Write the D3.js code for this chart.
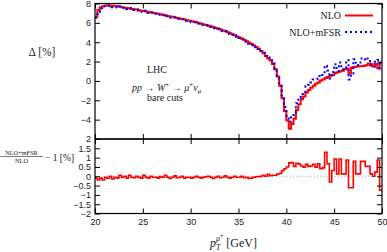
<!DOCTYPE html>
<html>
<head>
<meta charset="utf-8">
<script src="https://cdn.jsdelivr.net/npm/d3@7"></script>
<style>
  body { margin: 0; background: #fff; }
  svg { display: block; font-family: "Liberation Serif", "DejaVu Serif", serif; }
  .tick text { font-size: 9px; fill: #222; }
  .tick line { stroke: #000; stroke-width: 1; }
</style>
</head>
<body>
<div id="chart"></div>
<script>
// Histogram bins in pT (GeV): first lower edge and the bin width.
const ptStart = 20
const binWidth = 0.25

// Delta [%] at NLO, one value per bin.
const deltaNLO = [
  6.63, 7.33, 7.60, 7.72, 7.76, 7.81, 7.79, 7.77, 7.72, 7.69,
  7.66, 7.62, 7.56, 7.53, 7.49, 7.44, 7.41, 7.37, 7.31, 7.26,
  7.22, 7.17, 7.11, 7.08, 7.03, 6.98, 6.93, 6.89, 6.84, 6.78,
  6.72, 6.66, 6.62, 6.56, 6.50, 6.45, 6.40, 6.34, 6.28, 6.22,
  6.16, 6.11, 6.05, 5.98, 5.92, 5.84, 5.78, 5.71, 5.64, 5.56,
  5.48, 5.40, 5.32, 5.22, 5.13, 5.04, 4.93, 4.83, 4.72, 4.60,
  4.48, 4.36, 4.24, 4.10, 3.96, 3.82, 3.66, 3.50, 3.32, 3.10,
  2.85, 2.58, 2.32, 2.10, 1.75, 1.20, 0.45, -0.50, -1.80, -3.10,
  -4.10, -4.95, -4.45, -3.90, -3.00, -2.40, -1.90, -1.60, -1.20, -0.95,
  -0.70, -0.50, -0.30, -0.15, 0.05, 0.15, 0.30, 0.40, 0.55, 0.62,
  0.80, 0.90, 0.98, 1.05, 1.20, 1.28, 0.78, 1.38, 1.45, 1.50,
  1.52, 1.52, 1.55, 1.62, 1.80, 1.60, 1.50, 1.75, 1.30, 1.85
]

// Delta [%] at NLO+mFSR, one value per bin.
const deltaMFSR = [
  6.53, 7.13, 7.50, 7.52, 7.71, 7.71, 7.79, 7.62, 7.67, 7.59,
  7.71, 7.57, 7.56, 7.43, 7.54, 7.39, 7.33, 7.37, 7.26, 7.16,
  7.27, 7.12, 7.01, 7.08, 6.98, 6.93, 6.83, 6.87, 6.79, 6.83,
  6.67, 6.54, 6.57, 6.58, 6.42, 6.40, 6.40, 6.24, 6.23, 6.17,
  6.06, 6.06, 6.05, 5.93, 5.82, 5.79, 5.75, 5.71, 5.59, 5.44,
  5.43, 5.40, 5.24, 5.17, 5.15, 4.99, 4.83, 4.78, 4.72, 4.55,
  4.43, 4.36, 4.16, 4.05, 3.84, 3.72, 3.61, 3.47, 3.30, 3.10,
  2.90, 2.58, 2.42, 2.13, 1.80, 1.25, 0.57, -0.35, -1.50, -2.70,
  -3.60, -4.23, -3.72, -3.37, -2.30, -1.75, -1.35, -1.12, -0.56, -0.42,
  -0.15, 0.14, 0.19, 0.52, 0.45, 0.60, 1.58, 1.07, 0.24, 0.93,
  1.73, 1.03, 1.91, 1.18, 1.33, 2.15, 0.16, 0.76, 2.25, 1.63,
  1.65, 2.32, 2.35, 2.15, 2.33, 1.73, 1.50, 1.97, 2.17, 1.10
]

// (NLO+mFSR)/NLO - 1 [%], one value per bin.
const ratioMFSR = [
  -0.10, -0.20, -0.10, -0.20, -0.05, -0.10, 0.00, -0.15, -0.05, -0.10,
  0.05, -0.05, 0.00, -0.10, 0.05, -0.05, -0.08, 0.00, -0.05, -0.10,
  0.05, -0.05, -0.10, 0.00, -0.05, -0.05, -0.10, -0.02, -0.05, 0.05,
  -0.05, -0.12, -0.05, 0.02, -0.08, -0.05, 0.00, -0.10, -0.05, -0.05,
  -0.10, -0.05, 0.00, -0.05, -0.10, -0.05, -0.03, 0.00, -0.05, -0.12,
  -0.05, 0.00, -0.08, -0.05, 0.02, -0.05, -0.10, -0.05, 0.00, -0.05,
  -0.05, 0.00, -0.08, -0.05, -0.12, -0.10, -0.05, -0.03, -0.02, 0.00,
  0.05, 0.00, 0.10, 0.03, 0.05, 0.05, 0.12, 0.15, 0.30, 0.40,
  0.50, 0.72, 0.73, 0.53, 0.70, 0.65, 0.55, 0.48, 0.64, 0.53,
  0.55, 0.64, 0.49, 0.67, 0.40, 0.45, 1.28, 0.67, -0.31, 0.31,
  0.93, 0.13, 0.93, 0.13, 0.13, 0.87, -0.62, -0.62, 0.80, 0.13,
  0.13, 0.80, 0.80, 0.53, 0.53, 0.13, 0.00, 0.22, 0.87, -0.75
]

// Tick values.
const xTicks = [20, 25, 30, 35, 40, 45, 50]
const topYTicks = [-4, -2, 0, 2, 4, 6, 8]
const bottomYTicks = [-2, -1.5, -1, -0.5, 0, 0.5, 1, 1.5, 2]

const width = 387
const height = 252
const left = 95
const right = 382
const topPanel = [3.5, 139]
const bottomPanel = [139, 213.5]

const svg = d3.select("#chart")
  .append("svg")
  .attr("width", width)
  .attr("height", height)

const xScale = d3.scaleLinear().domain([20, 50]).range([left, right])
const yTop = d3.scaleLinear().domain([-6, 8]).range([topPanel[1], topPanel[0]])
const yBottom = d3.scaleLinear().domain([-2, 2]).range([bottomPanel[1], bottomPanel[0]])

const minusFormat = d => (d < 0 ? "\u2212" + Math.abs(d) : String(d))

/**
 * Turns per-bin values into step points (lower edges plus the closing edge).
 */
const _toSteps = (values) => {
  const pts = values.map((v, i) => [ptStart + i * binWidth, v])
  pts.push([ptStart + values.length * binWidth, values[values.length - 1]])
  return pts
}

/**
 * Draws the frame and the inward ticks of one panel.
 */
const _drawPanel = (yScale, yTicks, range, showXLabels) => {
  const g = svg.append("g")

  // Left axis with labels.
  g.append("g")
    .attr("transform", "translate(" + left + ",0)")
    .call(d3.axisLeft(yScale).tickValues(yTicks).tickSize(-5).tickPadding(4).tickFormat(minusFormat))
    .call(a => a.select(".domain").remove())

  // Right axis, ticks only.
  g.append("g")
    .attr("transform", "translate(" + right + ",0)")
    .call(d3.axisRight(yScale).tickValues(yTicks).tickSize(-5).tickFormat(""))
    .call(a => a.select(".domain").remove())

  // Top edge ticks.
  g.append("g")
    .attr("transform", "translate(0," + range[0] + ")")
    .call(d3.axisTop(xScale).tickValues(xTicks).tickSize(-5).tickFormat(""))
    .call(a => a.select(".domain").remove())

  // Bottom edge ticks.
  g.append("g")
    .attr("transform", "translate(0," + range[1] + ")")
    .call(d3.axisBottom(xScale).tickValues(xTicks).tickSize(-5).tickPadding(5)
      .tickFormat(showXLabels ? d3.format("d") : ""))
    .call(a => a.select(".domain").remove())

  g.append("rect")
    .attr("x", left)
    .attr("y", range[0])
    .attr("width", right - left)
    .attr("height", range[1] - range[0])
    .attr("fill", "none")
    .attr("stroke", "#000")
    .attr("stroke-width", 1.2)
}

// Clip paths for the two panels.
const defs = svg.append("defs")
defs.append("clipPath").attr("id", "clipTop")
  .append("rect").attr("x", left).attr("y", topPanel[0])
  .attr("width", right - left).attr("height", topPanel[1] - topPanel[0])
defs.append("clipPath").attr("id", "clipBottom")
  .append("rect").attr("x", left).attr("y", bottomPanel[0])
  .attr("width", right - left).attr("height", bottomPanel[1] - bottomPanel[0])

// Top panel curves.
const topLine = d3.line()
  .x(d => xScale(d[0]))
  .y(d => yTop(d[1]))
  .curve(d3.curveStepAfter)

svg.append("path")
  .attr("clip-path", "url(#clipTop)")
  .attr("d", topLine(_toSteps(deltaNLO)))
  .attr("fill", "none")
  .attr("stroke", "#ff0000")
  .attr("stroke-width", 2)

svg.append("path")
  .attr("clip-path", "url(#clipTop)")
  .attr("d", topLine(_toSteps(deltaMFSR)))
  .attr("fill", "none")
  .attr("stroke", "#0000ff")
  .attr("stroke-width", 2)
  .attr("stroke-dasharray", "2,3")

// Bottom panel: zero reference and ratio.
svg.append("line")
  .attr("x1", left).attr("x2", right)
  .attr("y1", yBottom(0)).attr("y2", yBottom(0))
  .attr("stroke", "#aaa")
  .attr("stroke-width", 1)
  .attr("stroke-dasharray", "1,2")

const bottomLine = d3.line()
  .x(d => xScale(d[0]))
  .y(d => yBottom(d[1]))
  .curve(d3.curveStepAfter)

svg.append("path")
  .attr("clip-path", "url(#clipBottom)")
  .attr("d", bottomLine(_toSteps(ratioMFSR)))
  .attr("fill", "none")
  .attr("stroke", "#ff0000")
  .attr("stroke-width", 1.6)

_drawPanel(yTop, topYTicks, topPanel, false)
_drawPanel(yBottom, bottomYTicks, bottomPanel, true)

// Legend.
const legend = [
  {label: "NLO", color: "#ff0000", dash: null, y: 15.5},
  {label: "NLO+mFSR", color: "#0000ff", dash: "2,3", y: 32}
]
legend.forEach(l => {
  svg.append("text")
    .attr("x", 341)
    .attr("y", l.y + 3.5)
    .attr("text-anchor", "end")
    .attr("font-size", 10)
    .attr("fill", "#222")
    .text(l.label)
  svg.append("line")
    .attr("x1", 345).attr("x2", 373)
    .attr("y1", l.y).attr("y2", l.y)
    .attr("stroke", l.color)
    .attr("stroke-width", 2)
    .attr("stroke-dasharray", l.dash)
})

// Process annotation.
svg.append("text").attr("x", 147).attr("y", 72.5).attr("font-size", 10).attr("fill", "#222").text("LHC")

const proc = svg.append("text").attr("x", 132).attr("y", 91).attr("font-size", 10).attr("fill", "#222")
proc.append("tspan").attr("font-style", "italic").text("pp")
proc.append("tspan").text(" \u2192 ")
proc.append("tspan").attr("font-style", "italic").text("W")
proc.append("tspan").attr("font-size", 7).attr("dy", -4).text("+")
proc.append("tspan").attr("dy", 4).text(" \u2192 ")
proc.append("tspan").attr("font-style", "italic").text("\u03bc")
proc.append("tspan").attr("font-size", 7).attr("dy", -4).text("+")
proc.append("tspan").attr("dy", 4).attr("font-style", "italic").text("\u03bd")
proc.append("tspan").attr("font-size", 7).attr("font-style", "italic").attr("dy", 2).text("\u03bc")

svg.append("text").attr("x", 147).attr("y", 101).attr("font-size", 10).attr("fill", "#222").text("bare cuts")

// Y axis titles.
svg.append("text")
  .attr("x", 42).attr("y", 56)
  .attr("text-anchor", "middle")
  .attr("font-size", 11.5)
  .attr("fill", "#222")
  .text("\u0394 [%]")

svg.append("text").attr("x", 21.5).attr("y", 154.5).attr("text-anchor", "middle")
  .attr("font-size", 6.3).attr("fill", "#222").text("NLO+mFSR")
svg.append("line").attr("x1", 0.5).attr("x2", 43).attr("y1", 156.5).attr("y2", 156.5)
  .attr("stroke", "#222").attr("stroke-width", 0.6)
svg.append("text").attr("x", 21.5).attr("y", 162.5).attr("text-anchor", "middle")
  .attr("font-size", 6.3).attr("fill", "#222").text("NLO")
svg.append("text").attr("x", 45).attr("y", 160.5).attr("font-size", 9.5).attr("fill", "#222")
  .text("\u2212 1 [%]")

// X axis title.
const xt = svg.append("text").attr("x", 210).attr("y", 247).attr("font-size", 12).attr("fill", "#222")
xt.append("tspan").attr("font-style", "italic").text("p")
xt.append("tspan").attr("font-style", "italic").attr("font-size", 8).attr("dy", 2.5).text("T")
xt.append("tspan").attr("font-style", "italic").attr("font-size", 8).attr("dx", -4.5).attr("dy", -9).text("\u03bc")
xt.append("tspan").attr("font-size", 6).attr("dy", -2.5).text("+")
xt.append("tspan").attr("dy", 9).attr("dx", 3).text("[GeV]")
</script>
</body>
</html>
